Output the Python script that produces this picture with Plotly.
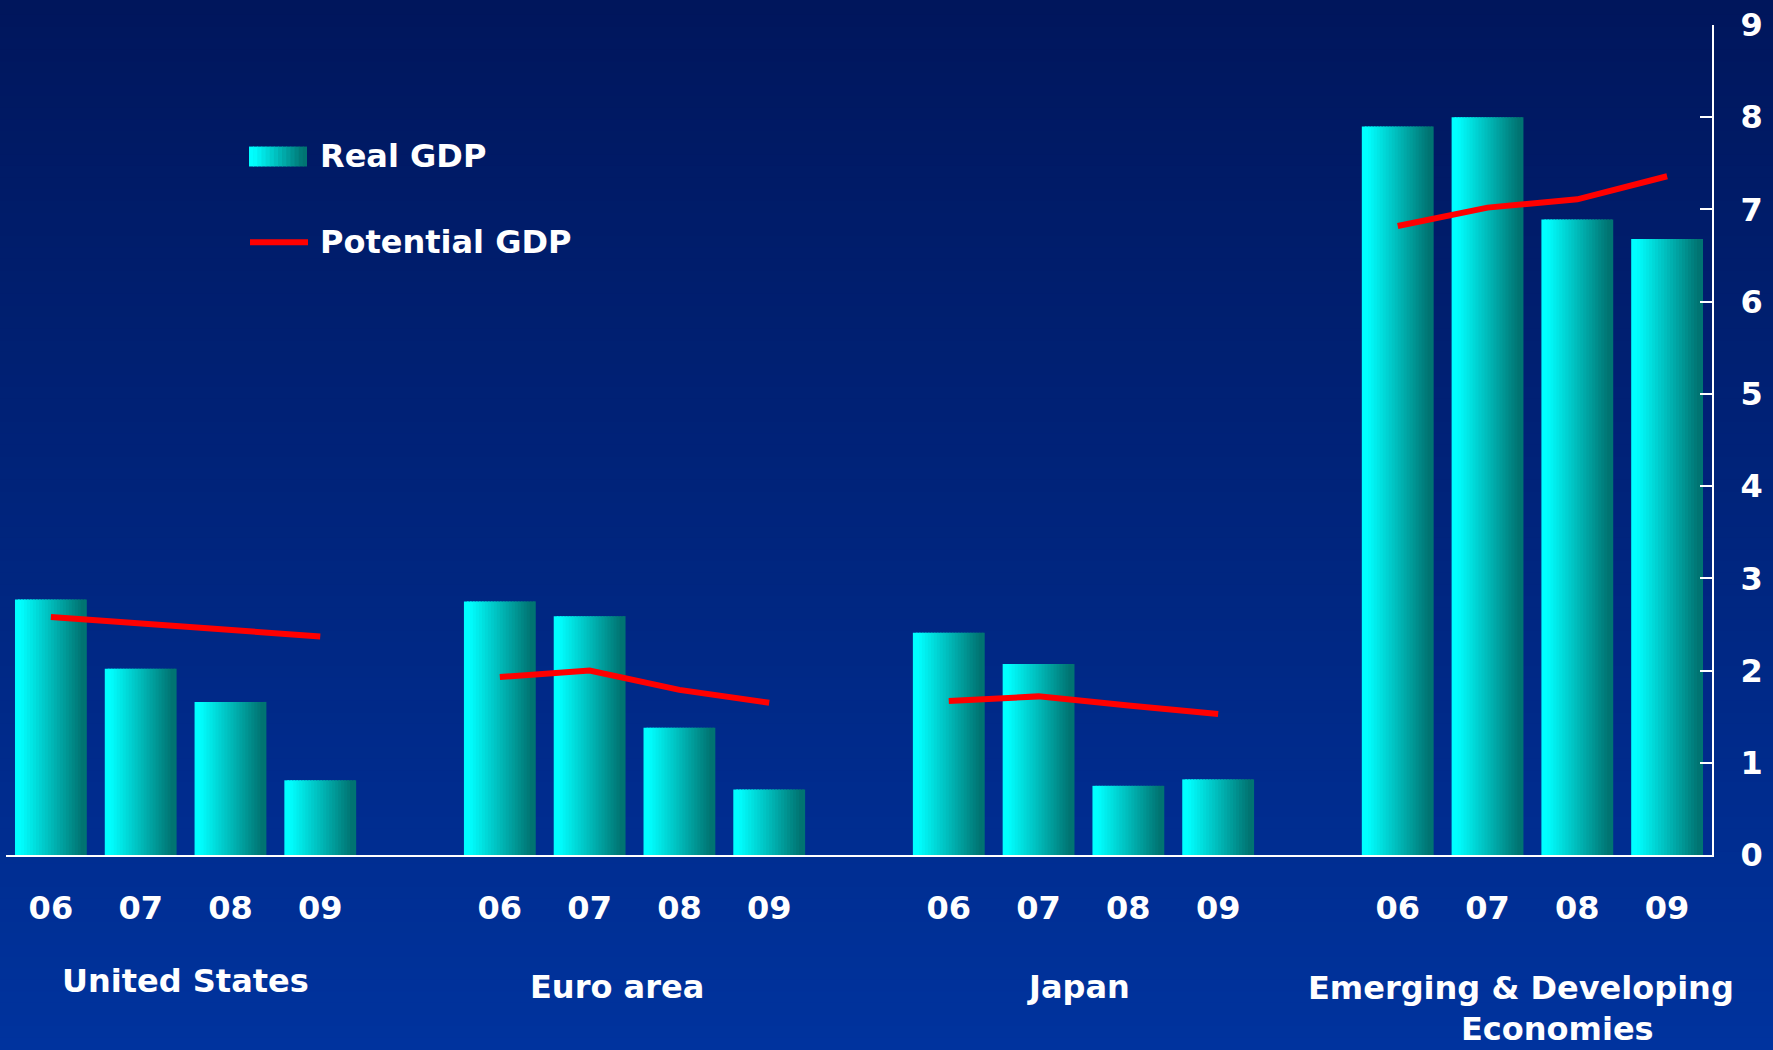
import plotly.graph_objects as go

# ---------------- data ----------------
years = ["06", "07", "08", "09"]
regions = ["United States", "Euro area", "Japan", "Emerging & Developing Economies"]

real_us = [2.77, 2.02, 1.66, 0.81]
real_euro = [2.75, 2.59, 1.38, 0.71]
real_japan = [2.41, 2.07, 0.75, 0.82]
real_emerging = [7.90, 8.00, 6.89, 6.68]

pot_us = [2.58, 2.51, 2.44, 2.37]
pot_euro = [1.93, 2.00, 1.79, 1.65]
pot_japan = [1.67, 1.72, 1.62, 1.53]
pot_emerging = [6.82, 7.02, 7.11, 7.36]

y_ticks = [0, 1, 2, 3, 4, 5, 6, 7, 8, 9]

real_all = [real_us, real_euro, real_japan, real_emerging]
pot_all = [pot_us, pot_euro, pot_japan, pot_emerging]

# ---------------- layout geometry ----------------
W, H = 1773, 1050
ML, MR, MT, MB = 6, 61, 22, 195
PW = W - ML - MR
PH = H - MT - MB


def px_x(px):
    return (px - ML) / PW


def px_y(py):
    return (H - MB - py) / PH


# positions: 4 bars per group, one empty slot between groups
bar_x = []
bar_y = []
line_x = []
line_y = []
tick_vals = []
tick_text = []
for g, (rv, pv) in enumerate(zip(real_all, pot_all)):
    for j, yr in enumerate(years):
        pos = g * 5 + j
        bar_x.append(pos)
        bar_y.append(rv[j])
        line_x.append(pos)
        line_y.append(pv[j])
        tick_vals.append(pos)
        tick_text.append(yr)
    line_x.append(None)
    line_y.append(None)


def lerp_col(c1, c2, f):
    return "rgb(%d,%d,%d)" % tuple(round(a + (b - a) * f) for a, b in zip(c1, c2))


CYAN = (0, 255, 255)
TEAL = (0, 116, 114)

fig = go.Figure()

# bars with horizontal gradient: drawn as thin overlapping strips
N = 24
BW = 0.8
sw = BW / N
for i in range(N):
    t = (i + 0.5) / N
    f = min(max((t - 0.08) / 0.85, 0), 1)
    col = lerp_col(CYAN, TEAL, f)
    fig.add_trace(go.Bar(
        x=bar_x, y=bar_y,
        offset=-BW / 2 + i * sw,
        width=sw * (1.6 if i < N - 1 else 1.0),
        marker=dict(color=col, line=dict(width=0)),
        showlegend=False, hoverinfo="skip" if i else "y",
        name="Real GDP",
    ))

fig.add_trace(go.Scatter(
    x=line_x, y=line_y, mode="lines",
    line=dict(color="#FF0000", width=6),
    connectgaps=False, showlegend=False, name="Potential GDP",
))

# background gradient
shapes = []
top_c = (0, 22, 92)
bot_c = (0, 51, 158)
NB = 90
for k in range(NB):
    y0 = k * H / NB
    y1 = (k + 1) * H / NB + 1
    f = (k + 0.5) / NB
    shapes.append(dict(
        type="rect", xref="paper", yref="paper", layer="below",
        x0=px_x(-2), x1=px_x(W + 2), y0=px_y(y1), y1=px_y(y0 - (2 if k == 0 else 0)),
        fillcolor=lerp_col(top_c, bot_c, f), line=dict(width=0),
    ))

# legend swatch (gradient)
sx0, sx1, sy0, sy1 = 249, 307, 144, 164
NS = 14
for i in range(NS):
    t = (i + 0.5) / NS
    f = min(max((t - 0.08) / 0.85, 0), 1)
    a = sx0 + (sx1 - sx0) * i / NS
    b = sx0 + (sx1 - sx0) * (i + 1) / NS + (0.8 if i < NS - 1 else 0)
    shapes.append(dict(
        type="rect", xref="paper", yref="paper", layer="above",
        x0=px_x(a), x1=px_x(b), y0=px_y(sy1), y1=px_y(sy0),
        fillcolor=lerp_col(CYAN, TEAL, f), line=dict(width=0),
    ))
shapes.append(dict(
    type="line", xref="paper", yref="paper", layer="above",
    x0=px_x(250), x1=px_x(308), y0=px_y(240), y1=px_y(240),
    line=dict(color="#FF0000", width=6),
))

FONT = "DejaVu Sans"
annotations = [
    dict(text="<b>Real GDP</b>", x=px_x(318), y=px_y(153)),
    dict(text="<b>Potential GDP</b>", x=px_x(318), y=px_y(240)),
]
for a in annotations:
    a.update(xref="paper", yref="paper", xanchor="left", yanchor="middle",
             showarrow=False, font=dict(family=FONT, size=32, color="white"))

group_labels = [
    ("United States", 185, 981),
    ("Euro area", 617, 987),
    ("Japan", 1078, 987),
    ("Emerging & Developing", 1521, 988),
    ("Economies", 1557, 1030),
]
for txt, gx, gy in group_labels:
    annotations.append(dict(
        text="<b>%s</b>" % txt, xref="paper", yref="paper",
        x=px_x(gx), y=px_y(gy), xanchor="center", yanchor="middle",
        showarrow=False, font=dict(family=FONT, size=32, color="white"),
    ))

fig.update_layout(
    width=W, height=H,
    margin=dict(l=ML, r=MR, t=MT, b=MB, pad=0),
    paper_bgcolor="#00165C",
    plot_bgcolor="rgba(0,0,0,0)",
    barmode="overlay",
    bargap=0.2,
    showlegend=False,
    shapes=shapes,
    annotations=annotations,
    font=dict(family=FONT, color="white"),
    xaxis=dict(
        range=[-0.5, 18.5], tickmode="array", tickvals=tick_vals,
        ticktext=["<b>%s</b>" % t for t in tick_text],
        tickfont=dict(family=FONT, size=32, color="white"),
        showline=True, linecolor="white", linewidth=2,
        ticks="", showgrid=False, zeroline=False,
        ticklabelstandoff=24, fixedrange=True,
    ),
    yaxis=dict(
        range=[0, 9], side="right", tickmode="array", tickvals=y_ticks,
        ticktext=["<b>%d</b>" % v for v in y_ticks],
        tickfont=dict(family=FONT, size=32, color="white"),
        showline=True, linecolor="white", linewidth=2,
        ticks="inside", ticklen=12, tickwidth=2, tickcolor="white",
        showgrid=False, zeroline=False, ticklabelstandoff=20,
        fixedrange=True,
    ),
)

fig.write_html(
    "out.html",
    config={"displayModeBar": False},
    post_script="document.body.style.margin='0';document.body.style.padding='0';"
                "document.body.style.overflow='hidden';",
)
